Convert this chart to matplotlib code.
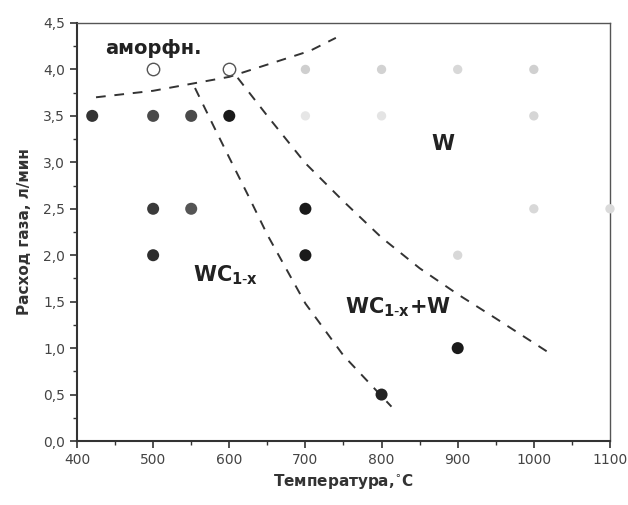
import matplotlib.pyplot as plt
import numpy as np
from matplotlib.ticker import MultipleLocator, FuncFormatter

# data
# dark points: WC1-x / WC1-x+W samples
dark_T = [420, 500, 550, 600, 500, 550, 700, 500, 700, 800, 900]
dark_Q = [3.5, 3.5, 3.5, 3.5, 2.5, 2.5, 2.5, 2.0, 2.0, 0.5, 1.0]
dark_c = ['#333333', '#4a4a4a', '#4a4a4a', '#1a1a1a', '#3a3a3a', '#555555',
          '#1a1a1a', '#2e2e2e', '#1a1a1a', '#222222', '#1a1a1a']

# open circles: amorphous
amorph_T = [500, 600]
amorph_Q = [4.0, 4.0]

# faint grey points: W
w_T = [700, 800, 900, 1000, 700, 800, 1000, 1000, 1100, 900]
w_Q = [4.0, 4.0, 4.0, 4.0, 3.5, 3.5, 3.5, 2.5, 2.5, 2.0]
w_c = ['#cfcfcf', '#d2d2d2', '#d8d8d8', '#d0d0d0', '#e6e6e6', '#e4e4e4',
       '#d6d6d6', '#d8d8d8', '#dadada', '#d8d8d8']

# dashed boundaries
b1_T = [425, 500, 600, 706, 740]
b1_Q = [3.70, 3.77, 3.92, 4.20, 4.34]
b2_T = [555, 580, 600, 625, 650, 700, 750, 813]
b2_Q = [3.80, 3.38, 3.05, 2.64, 2.22, 1.48, 0.92, 0.37]
b3_T = [611, 650, 700, 750, 800, 850, 900, 950, 1018]
b3_Q = [3.91, 3.50, 2.99, 2.58, 2.19, 1.86, 1.58, 1.32, 0.96]

fig = plt.figure(figsize=(6.28, 5.05), dpi=100)
ax = fig.add_axes([0.1226, 0.1267, 0.8487, 0.8278])

for T, Q in [(b1_T, b1_Q), (b2_T, b2_Q), (b3_T, b3_Q)]:
    ax.plot(T, Q, color='#333333', lw=1.4, linestyle=(0, (5, 4.5)))

ax.scatter(w_T, w_Q, s=45, c=w_c, edgecolors='none', zorder=3, clip_on=False)
ax.scatter(dark_T, dark_Q, s=75, c=dark_c, edgecolors='none', zorder=3)
ax.scatter(amorph_T, amorph_Q, s=80, facecolors='white', edgecolors='#555555',
           linewidths=1.0, zorder=3)

ax.text(500, 4.23, 'аморфн.', fontsize=14, fontweight='bold', color='#222222',
        ha='center', va='center')
ax.text(881, 3.2, 'W', fontsize=15, fontweight='bold', color='#222222',
        ha='center', va='center')
ax.text(595, 1.79, r'WC$_{\mathbf{1\text{-}x}}$', fontsize=15, fontweight='bold',
        color='#222222', ha='center', va='center')
ax.text(822, 1.44, r'WC$_{\mathbf{1\text{-}x}}$+W', fontsize=15, fontweight='bold',
        color='#222222', ha='center', va='center')

ax.set_xlim(400, 1100)
ax.set_ylim(0, 4.5)
ax.xaxis.set_major_locator(MultipleLocator(100))
ax.xaxis.set_minor_locator(MultipleLocator(50))
ax.yaxis.set_major_locator(MultipleLocator(0.5))
ax.yaxis.set_minor_locator(MultipleLocator(0.25))
ax.yaxis.set_major_formatter(FuncFormatter(lambda v, p: f'{v:.1f}'.replace('.', ',')))
ax.tick_params(which='major', direction='out', length=5, width=1.2,
               labelsize=10, labelcolor='#444444', colors='#333333')
ax.tick_params(which='minor', direction='out', length=3, width=1.0, colors='#333333')
ax.tick_params(axis='x', labelcolor='#444444')

for s in ['left', 'bottom']:
    ax.spines[s].set_linewidth(1.5)
    ax.spines[s].set_color('#333333')
for s in ['top', 'right']:
    ax.spines[s].set_linewidth(1.0)
    ax.spines[s].set_color('#555555')

ax.set_xlabel('Температура,$^{\\circ}$C', fontsize=11, fontweight='bold', color='#333333')
ax.set_ylabel('Расход газа, л/мин', fontsize=11, fontweight='bold', color='#333333',
              labelpad=8)

fig.savefig('out.png', dpi=100)
